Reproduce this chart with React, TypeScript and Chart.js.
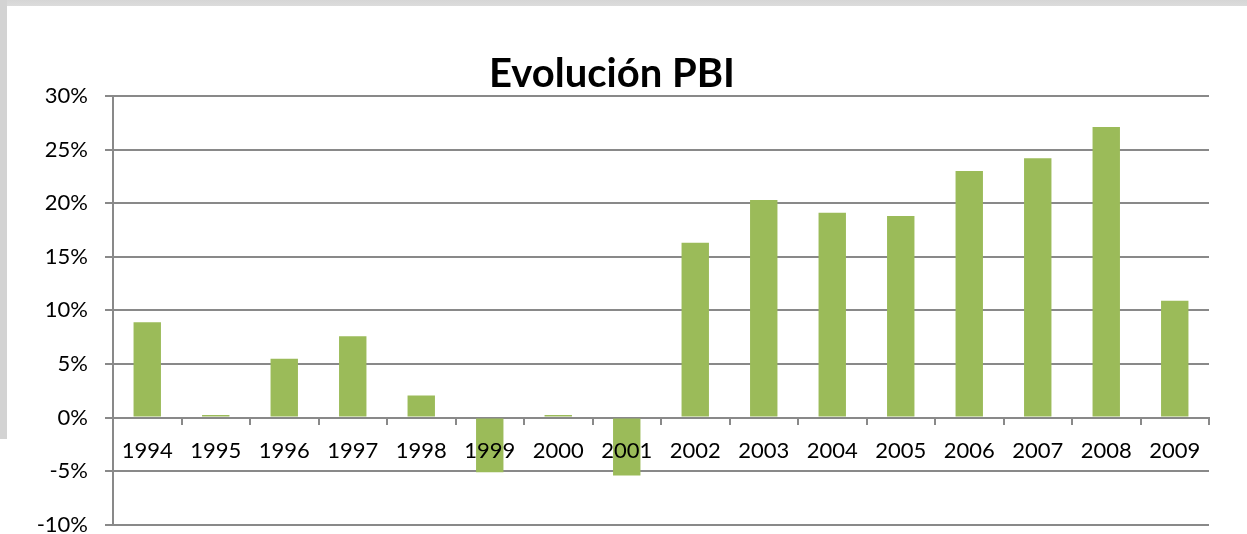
import React, { useEffect, useRef } from "react";
import { Chart, registerables } from "chart.js";

Chart.register(...registerables);

const years = ["1994", "1995", "1996", "1997", "1998", "1999", "2000", "2001", "2002", "2003", "2004", "2005", "2006", "2007", "2008", "2009"];
const growth = [8.9, 0.25, 5.5, 7.6, 2.05, -5.1, 0.25, -5.4, 16.3, 20.3, 19.1, 18.8, 23.0, 24.2, 27.1, 10.9];
const titleText = "Evolución PBI";

const GRID = "#898989";
const FONT = "Lato, 'Open Sans', sans-serif";

export default function App() {
  const ref = useRef<HTMLCanvasElement | null>(null);
  useEffect(() => {
    if (!ref.current) return;
    const chart = new Chart(ref.current, {
      type: "bar",
      data: {
        labels: years,
        datasets: [
          {
            data: growth,
            backgroundColor: "#9BBB59",
            borderWidth: 0,
            barPercentage: 0.4,
            categoryPercentage: 1,
          },
        ],
      },
      options: {
        animation: false,
        responsive: false,
        layout: { padding: { left: 15, right: 15, top: 0, bottom: 0 } },
        plugins: {
          legend: { display: false },
          tooltip: { enabled: false },
          title: {
            display: true,
            text: titleText,
            color: "#000",
            font: { family: FONT, size: 40, weight: "bold", lineHeight: 0.9 },
            padding: { top: 56, bottom: 4 },
          },
        },
        scales: {
          x: {
            position: { y: 0 } as any,
            grid: {
              display: true,
              drawOnChartArea: false,
              drawTicks: true,
              tickLength: 6,
              color: GRID,
              lineWidth: 2,
              offset: true,
            },
            border: { display: true, color: GRID, width: 2 },
            ticks: {
              z: 1,
              color: "#000",
              font: { family: FONT, size: 22 },
              padding: 14,
              maxRotation: 0,
              autoSkip: false,
            },
          },
          y: {
            min: -10,
            max: 30,
            afterFit: (s: any) => {
              s.width = 98;
            },
            grid: { color: GRID, lineWidth: 2, tickLength: 8 },
            border: { display: true, color: GRID, width: 2 },
            ticks: {
              stepSize: 5,
              color: "#000",
              padding: 17,
              font: { family: FONT, size: 22 },
              callback: (v: any) => `${v}%`,
            },
          },
        },
      },
    });
    return () => chart.destroy();
  }, []);
  return (
    <div style={{ position: "fixed", left: 0, top: 0, width: 1247, height: 534, overflow: "hidden", background: "#fff" }}>
      <div style={{ position: "absolute", left: 0, top: 0, width: 1247, height: 6, background: "linear-gradient(#d6d6d6, #dcdcdc)" }} />
      <div style={{ position: "absolute", left: 0, top: 0, width: 7, height: 439, background: "#d3d3d3" }} />
      <canvas ref={ref} width={1224} height={555} style={{ position: "absolute", left: 0, top: 0, width: 1224, height: 555 }} />
    </div>
  );
}
